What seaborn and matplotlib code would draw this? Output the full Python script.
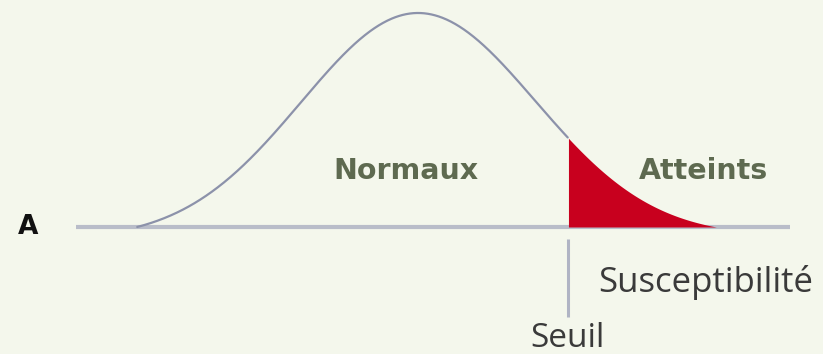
import numpy as np
import pandas as pd
import matplotlib
matplotlib.use("Agg")
import matplotlib.pyplot as plt
import seaborn as sns

# Susceptibility distribution (in standard-deviation units)
mean = 0.0
sd = 1.0
threshold = 1.282          # "Seuil"
left_extent = 2.40         # the curve meets the axis this many sd left of the mean
right_extent = 2.55        # ... and this many sd right of the mean
axis_range = (-2.92, 3.18)

labels_groups = ["Normaux", "Atteints"]
label_axis = "Susceptibilité"
label_threshold = "Seuil"
panel_letter = "A"

bg = "#f4f7ec"
curve_color = "#8c92aa"
axis_color = "#b9bdc9"
tail_color = "#c8001e"
group_text_color = "#5e6a50"

# Normal density, tapered on each side so it reaches zero at the extents, peak = 1
x = np.linspace(mean - left_extent * sd, mean + right_extent * sd, 800)
z = (x - mean) / sd
g = np.exp(-0.5 * z ** 2)
g_edge = np.where(z < 0, np.exp(-0.5 * left_extent ** 2), np.exp(-0.5 * right_extent ** 2))
y = np.clip((g - g_edge) / (1 - g_edge), 0, None)
df = pd.DataFrame({"x": x, "y": y})
left = df[df.x <= threshold]
tail = df[df.x >= threshold]

sns.set_theme(style="white")
plt.rcParams["font.family"] = ["DejaVu Sans"]

fig = plt.figure(figsize=(8.23, 3.54), dpi=100, facecolor=bg)
ax = fig.add_axes([0, 0, 1, 1], facecolor=bg)
ax.set_xlim(-3.573, 3.462)
ax.set_ylim(-0.5935, 1.0607)
ax.set_axis_off()

# axis line
ax.hlines(0, *axis_range, color=axis_color, lw=3.0, zorder=1)

# affected tail
ax.fill_between(tail.x, 0, tail.y, color=tail_color, lw=0, zorder=2)

# density curve (unaffected part)
sns.lineplot(data=left, x="x", y="y", ax=ax, color=curve_color, lw=1.6,
             estimator=None, sort=False, zorder=3)

# threshold marker below the axis
ax.vlines(threshold, -0.056, -0.42, color="#b0b4c4", lw=2.2, zorder=1)

group_font = dict(fontsize=20.5, fontweight="bold", color=group_text_color,
                  family=["DejaVu Sans"], ha="center", va="baseline")
ax.text(-0.10, 0.225, labels_groups[0], **group_font)
ax.text(2.44, 0.225, labels_groups[1], **group_font)

plain_font = dict(color="#3a3a3a", family=["Open Sans", "DejaVu Sans"], va="baseline")
ax.text(1.538, -0.304, label_axis, ha="left", fontsize=25, **plain_font)
ax.text(threshold, -0.561, label_threshold, ha="center", fontsize=24, **plain_font)

ax.text(-3.333, 0.0, panel_letter, ha="center", va="center",
        fontsize=19, fontweight="bold", color="#111111")

fig.savefig("out.png", dpi=100, facecolor=bg)
